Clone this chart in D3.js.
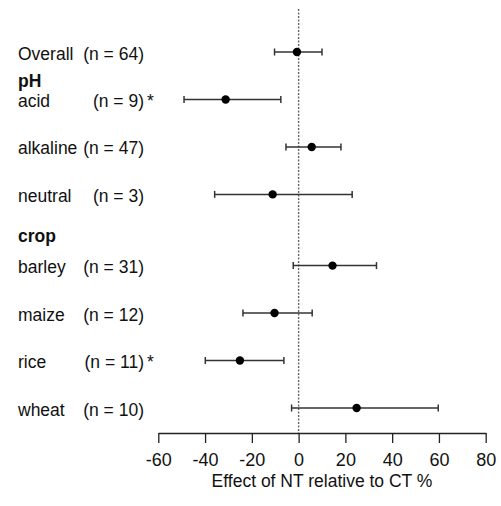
<!DOCTYPE html>
<html>
<head>
<meta charset="utf-8">
<script src="https://cdn.jsdelivr.net/npm/d3@7"></script>
<style>
  body { margin: 0; background: #fff; }
  text { font-family: "Liberation Sans", Arial, sans-serif; fill: #111; }
</style>
</head>
<body>
<script>
// values
let categories = ["Overall", "acid", "alkaline", "neutral", "barley", "maize", "rice", "wheat"]
let groups = ["", "pH", "pH", "pH", "crop", "crop", "crop", "crop"]
let nObs = [64, 9, 47, 3, 31, 12, 11, 10]
let signif = [false, true, false, false, false, false, true, false]
let effect = [-0.7, -31.2, 5.6, -11.1, 14.5, -10.3, -25.1, 24.8]
let lower = [-10.3, -49.0, -5.4, -35.9, -2.3, -23.8, -39.9, -3.0]
let upper = [10.0, -7.6, 18.1, 22.9, 33.3, 5.8, -6.3, 59.7]
let xTicks = [-60, -40, -20, 0, 20, 40, 60, 80]
let xTitle = "Effect of NT relative to CT %"

let width = 501, height = 506

// row slots: groups push rows down a bit, headers sit just above their first row
let slots = [], headers = []
let slot = 0
categories.forEach((c, i) => {
  if (i > 0 && groups[i] !== groups[i - 1]) {
    let gap = headers.length === 0 ? 0 : 0.5
    slot += gap
    headers.push({ name: groups[i], slot: slot + 1 - (headers.length === 0 ? 0.42 : 0.66) })
  }
  if (i > 0) slot += 1
  slots.push(slot)
})

let x = d3.scaleLinear().domain([-60, 80]).range([158.3, 485.7])
let y = d3.scaleLinear().domain([0, d3.max(slots)]).range([52, 408])

let svg = d3.select('body').append('svg')
  .attr('width', width)
  .attr('height', height)

// reference line at zero
svg.append('line')
  .attr('x1', x(0)).attr('x2', x(0))
  .attr('y1', 9).attr('y2', 433)
  .attr('stroke', '#666')
  .attr('stroke-width', 1.4)
  .attr('stroke-dasharray', '2,1.5')

let rows = categories.map((c, i) => ({
  name: c, n: nObs[i], sig: signif[i], est: effect[i], lo: lower[i], hi: upper[i], slot: slots[i]
}))

let g = svg.selectAll('g.row')
  .data(rows)
  .enter().append('g')
  .attr('class', 'row')
  .attr('transform', d => 'translate(0,' + y(d.slot) + ')')

g.append('line')
  .attr('x1', d => x(d.lo)).attr('x2', d => x(d.hi))
  .attr('stroke', '#333').attr('stroke-width', 1.5)
g.append('line')
  .attr('x1', d => x(d.lo)).attr('x2', d => x(d.lo))
  .attr('y1', -3.5).attr('y2', 3.5)
  .attr('stroke', '#333').attr('stroke-width', 1.5)
g.append('line')
  .attr('x1', d => x(d.hi)).attr('x2', d => x(d.hi))
  .attr('y1', -3.5).attr('y2', 3.5)
  .attr('stroke', '#333').attr('stroke-width', 1.5)
g.append('circle')
  .attr('cx', d => x(d.est))
  .attr('r', 4.2)
  .attr('fill', '#000')

g.append('text')
  .attr('x', 18).attr('y', 7.5)
  .style('font-size', '17.5px')
  .text(d => d.name)
g.append('text')
  .attr('x', 144).attr('y', 7.5)
  .attr('text-anchor', 'end')
  .style('font-size', '17.5px')
  .text(d => '(n = ' + d.n + ')')
g.filter(d => d.sig).append('text')
  .attr('x', 147).attr('y', 7.5)
  .style('font-size', '17.5px')
  .text('*')

svg.selectAll('text.header')
  .data(headers)
  .enter().append('text')
  .attr('class', 'header')
  .attr('x', 18)
  .attr('y', d => y(d.slot) + 7.5)
  .style('font-size', '17.5px')
  .style('font-weight', 'bold')
  .text(d => d.name)

// x axis, plain hyphen minus like the original
let axis = svg.append('g')
  .attr('transform', 'translate(0,433)')
  .call(d3.axisBottom(x).tickValues(xTicks).tickFormat(d => String(d))
    .tickSizeInner(10).tickSizeOuter(0).tickPadding(10))
axis.select('.domain').attr('stroke', '#222').attr('stroke-width', 1.3)
axis.selectAll('.tick line').attr('stroke', '#222').attr('stroke-width', 1.3)
axis.selectAll('.tick text')
  .style('font-size', '18px')
  .style('font-family', '"Liberation Sans", Arial, sans-serif')
  .attr('fill', '#111')

svg.append('text')
  .attr('x', x(10))
  .attr('y', 487)
  .attr('text-anchor', 'middle')
  .style('font-size', '17.5px')
  .text(xTitle)
</script>
</body>
</html>
